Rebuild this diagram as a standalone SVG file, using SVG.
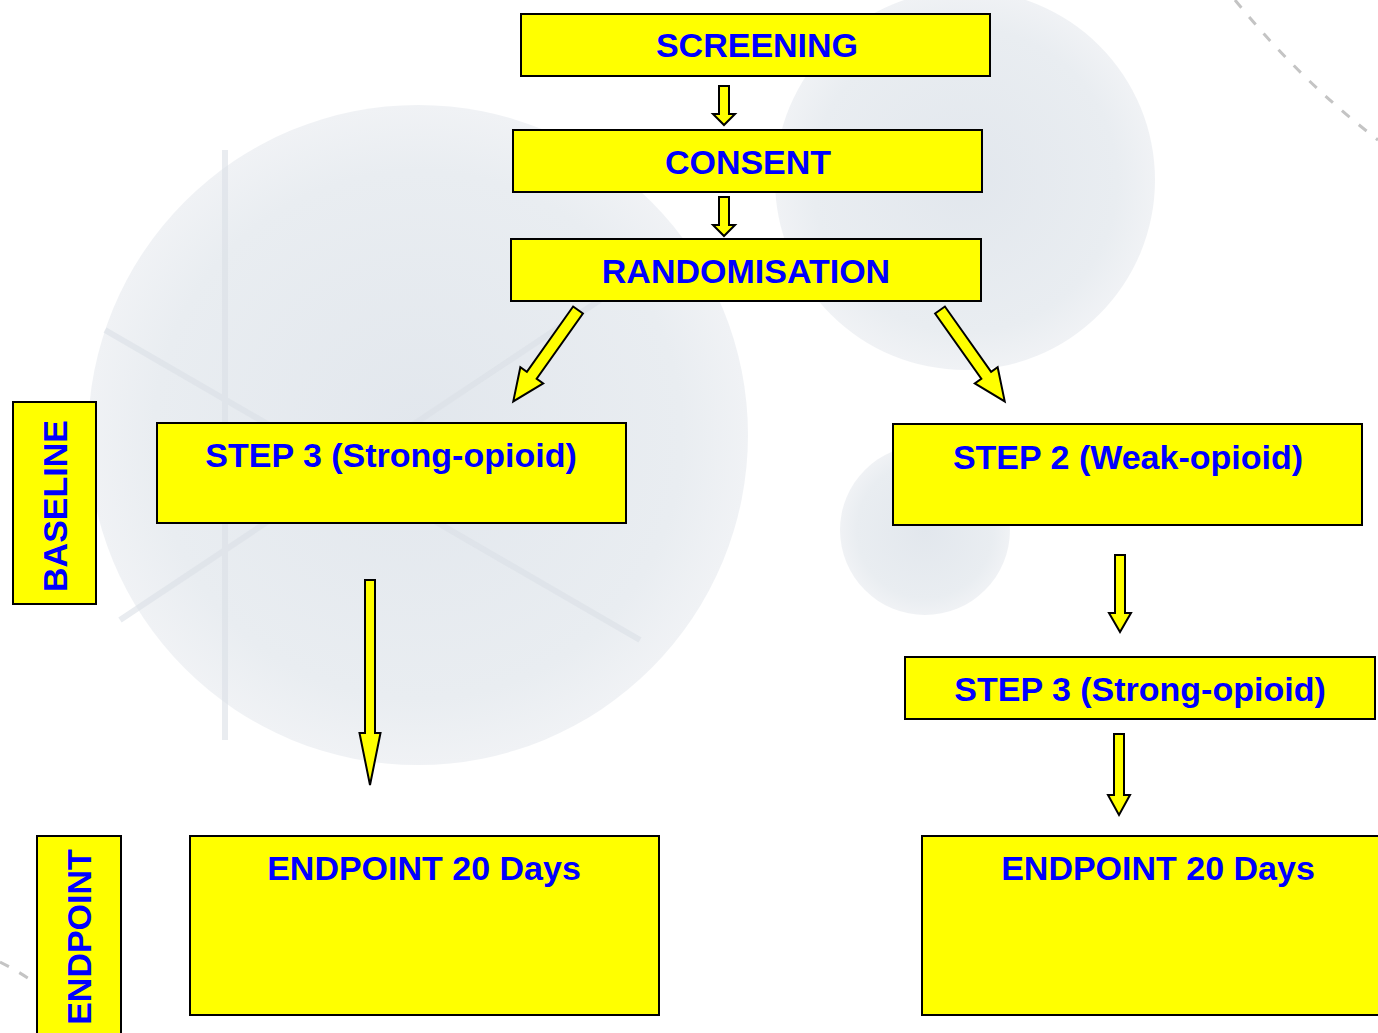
<svg xmlns="http://www.w3.org/2000/svg" width="1378" height="1033" viewBox="0 0 1378 1033">
<defs>
<radialGradient id="bg1" cx="50%" cy="50%" r="50%">
<stop offset="0" stop-color="#e2e7ed"/>
<stop offset="0.8" stop-color="#e9edf1"/>
<stop offset="1" stop-color="#f0f2f5"/>
</radialGradient>
<style>
.box{fill:#ffff00;stroke:#000;stroke-width:2}
.lbl{font-family:"Liberation Sans",Arial,sans-serif;font-weight:bold;font-size:34px;fill:#0000ff;text-anchor:middle}
.arr{fill:#ffff00;stroke:#000;stroke-width:2;stroke-linejoin:miter}
.dash{fill:none;stroke:#c4c4c4;stroke-width:3;stroke-dasharray:10 12}
.flake{fill:none;stroke:#dbe0e6;stroke-width:6;stroke-opacity:0.6}
</style>
</defs>
<rect width="1378" height="1033" fill="#ffffff"/>
<g id="background">
<circle cx="418" cy="435" r="330" fill="url(#bg1)"/>
<circle cx="965" cy="180" r="190" fill="url(#bg1)"/>
<circle cx="925" cy="530" r="85" fill="url(#bg1)"/>
<path class="flake" d="M225 150 L225 740 M105 330 L640 640 M120 620 L600 300"/>
<path class="dash" d="M1235 0 Q1300 80 1378 140"/>
<path class="dash" d="M0 962 Q20 972 38 985"/>
</g>
<g id="connectors">
<polygon class="arr" transform="translate(724,86)" points="-5,0 5,0 5,28 11,28 0,39 -11,28 -5,28"/>
<polygon class="arr" transform="translate(724,197)" points="-5,0 5,0 5,28 11,28 0,39 -11,28 -5,28"/>
<polygon class="arr" transform="translate(578,310) rotate(35.3)" points="-6,0 6,0 6,80 14,80 0,112 -14,80 -6,80"/>
<polygon class="arr" transform="translate(940,310) rotate(-35.3)" points="-6,0 6,0 6,80 14,80 0,112 -14,80 -6,80"/>
<polygon class="arr" transform="translate(370,580)" points="-5,0 5,0 5,153 10.5,153 0,205 -10.5,153 -5,153"/>
<polygon class="arr" transform="translate(1120,555)" points="-5,0 5,0 5,58 11,58 0,77 -11,58 -5,58"/>
<polygon class="arr" transform="translate(1119,734)" points="-5,0 5,0 5,61 11,61 0,81 -11,61 -5,61"/>
</g>
<g id="screening"><rect class="box" x="521" y="14" width="469" height="62"/><text class="lbl" x="757" y="57">SCREENING</text></g>
<g id="consent"><rect class="box" x="513" y="130" width="469" height="62"/><text class="lbl" x="748" y="174">CONSENT</text></g>
<g id="randomisation"><rect class="box" x="511" y="239" width="470" height="62"/><text class="lbl" x="746" y="283">RANDOMISATION</text></g>
<g id="baseline"><rect class="box" x="13" y="402" width="83" height="202"/><text class="lbl" transform="translate(67,506) rotate(-90)" x="0" y="0">BASELINE</text></g>
<g id="step3-left"><rect class="box" x="157" y="423" width="469" height="100"/><text class="lbl" x="391" y="467">STEP 3 (Strong-opioid)</text></g>
<g id="step2-right"><rect class="box" x="893" y="424" width="469" height="101"/><text class="lbl" x="1128" y="469">STEP 2 (Weak-opioid)</text></g>
<g id="step3-right"><rect class="box" x="905" y="657" width="470" height="62"/><text class="lbl" x="1140" y="701">STEP 3 (Strong-opioid)</text></g>
<g id="endpoint-label"><rect class="box" x="37" y="836" width="84" height="210"/><text class="lbl" transform="translate(91,937) rotate(-90)" x="0" y="0">ENDPOINT</text></g>
<g id="endpoint-left"><rect class="box" x="190" y="836" width="469" height="179"/><text class="lbl" x="424" y="880">ENDPOINT 20 Days</text></g>
<g id="endpoint-right"><rect class="box" x="922" y="836" width="470" height="179"/><text class="lbl" x="1158" y="880">ENDPOINT 20 Days</text></g>
</svg>
